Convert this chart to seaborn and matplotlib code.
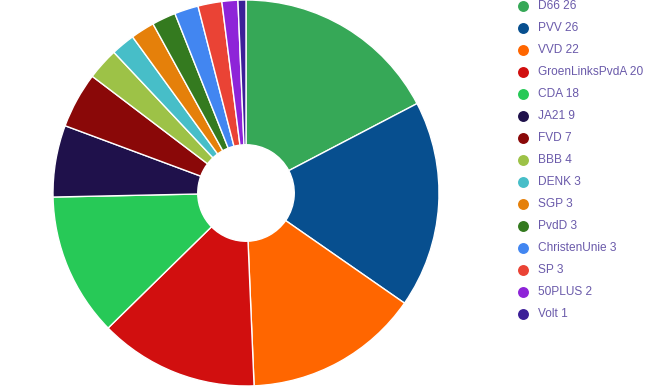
import matplotlib
matplotlib.use("Agg")
import matplotlib.pyplot as plt
import seaborn as sns

parties = ["D66", "PVV", "VVD", "GroenLinksPvdA", "CDA", "JA21", "FVD", "BBB",
           "DENK", "SGP", "PvdD", "ChristenUnie", "SP", "50PLUS", "Volt"]
seats = [26, 26, 22, 20, 18, 9, 7, 4, 3, 3, 3, 3, 3, 2, 1]
colors = ["#36a857", "#074f8f", "#ff6600", "#d10f0f", "#27c957", "#1f114b",
          "#8a0808", "#9dc247", "#47bec8", "#e5800a", "#347a1f", "#4286f1",
          "#ea4335", "#8e24d8", "#3c1f98"]

sns.set_theme(style="white")
plt.rcParams["font.family"] = ["Liberation Sans", "DejaVu Sans"]

W, H = 645, 387
fig = plt.figure(figsize=(W / 100, H / 100), dpi=100)
ax = fig.add_axes([0, 0, 1, 1])

cx, cy, r = 246, H - 193, 193
ax.pie(seats, colors=colors, startangle=90, counterclock=False,
       center=(cx, cy), radius=r, frame=True,
       wedgeprops=dict(width=r * 0.75, edgecolor="white", linewidth=1))
ax.set_xlim(0, W)
ax.set_ylim(0, H)
ax.axis("off")

for i, (p, s, c) in enumerate(zip(parties, seats, colors)):
    y = H - (6 + 22 * i)
    ax.scatter([523], [y], s=62, color=c, zorder=5, linewidths=0)
    ax.text(537.5, y, f"{p} {s}", color="#6a5aaa", fontsize=8.6,
            va="center", ha="left")

fig.savefig("out.png", dpi=100)
